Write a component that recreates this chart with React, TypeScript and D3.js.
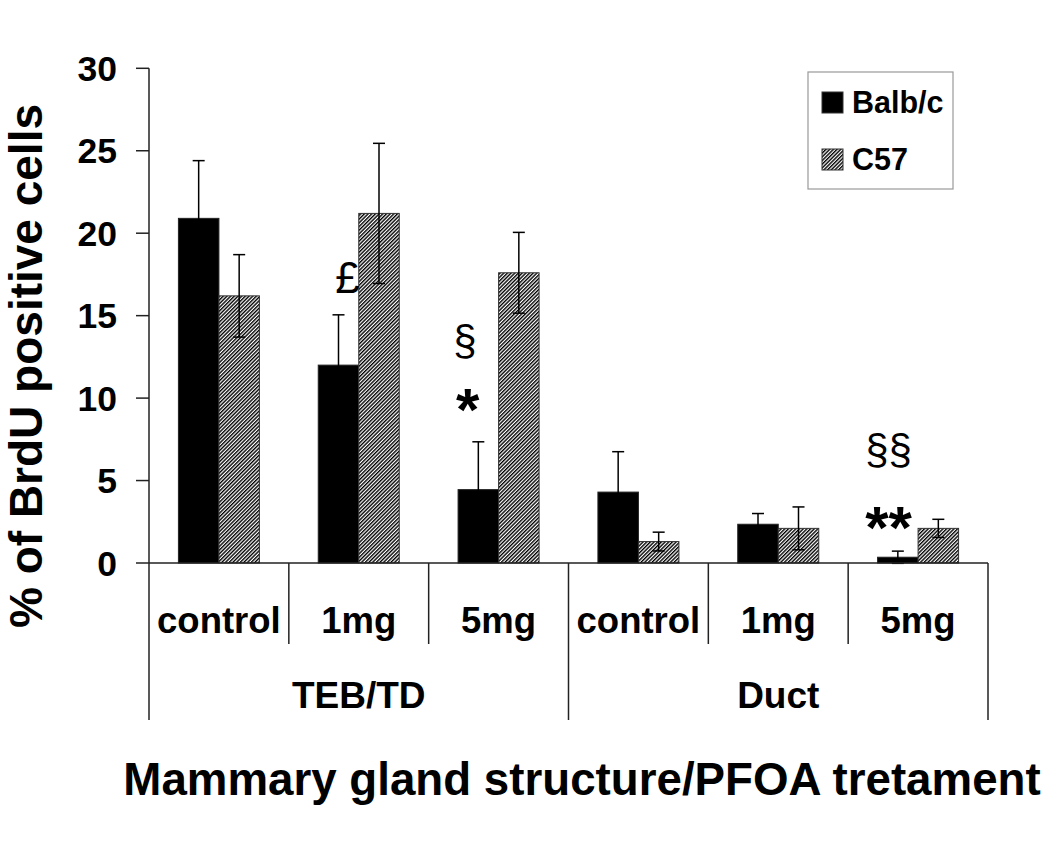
import React from "react";
import * as d3 from "d3";

const categories = ["control", "1mg", "5mg", "control", "1mg", "5mg"];
const groups = ["TEB/TD", "Duct"];
const groupSpan = [3, 3];
const series = ["Balb/c", "C57"];
const balb = [20.9, 12.0, 4.45, 4.3, 2.35, 0.35];
const balbErr = [3.5, 3.05, 2.9, 2.45, 0.65, 0.37];
const c57 = [16.2, 21.2, 17.6, 1.3, 2.1, 2.1];
const c57Err = [2.5, 4.25, 2.45, 0.57, 1.3, 0.55];
const yTicks = [0, 5, 10, 15, 20, 25, 30];

// annotations: category index, text, baseline value (data units), horizontal shift in bar widths
const annCat = [1, 2, 2, 5, 5];
const annText = ["£", "§", "*", "§§", "**"];
const annVal = [16.4, 12.6, 8.05, 6.0, 0.9];
const annShift = [0.22, -0.33, -0.26, -0.23, -0.23];
const annBold = [false, false, true, false, true];
const annSize = [44, 42, 60, 42, 60];

const W = 1050;
const H = 851;
const FONT = "'Liberation Sans', Arial, Helvetica, sans-serif";

export default function App() {
  const x0 = 149;
  const x1 = 988;
  const y = d3.scaleLinear().domain([0, 30]).range([563, 68.3]);
  const keys = categories.map((c, i) => `${i}`);
  const x = d3.scaleBand<string>().domain(keys).range([x0, x1]).padding(0);
  const bw = x.bandwidth();
  const barW = 40.5;
  const xs = d3
    .scaleBand<string>()
    .domain(series)
    .range([(bw - 2 * barW) / 2, (bw + 2 * barW) / 2])
    .padding(0);
  const y0 = y(0);
  const catLineEnd = 644;
  const grpLineEnd = 720;

  const groupEdges: number[] = [];
  let acc = 0;
  groupEdges.push(0);
  groupSpan.forEach((s) => {
    acc += s;
    groupEdges.push(acc);
  });
  const edgeX = (i: number) => (i >= keys.length ? x1 : (x(keys[i]) as number));

  const drawErr = (cx: number, v: number, e: number, k: string) => (
    <g key={k} stroke="#000" strokeWidth={1.5} fill="none">
      <line x1={cx} x2={cx} y1={y(v - e)} y2={y(v + e)} />
      <line x1={cx - 6} x2={cx + 6} y1={y(v + e)} y2={y(v + e)} />
      <line x1={cx - 6} x2={cx + 6} y1={y(v - e)} y2={y(v - e)} />
    </g>
  );

  return (
    <svg
      width={W}
      height={H}
      style={{ position: "absolute", left: 0, top: 0, background: "#fff" }}
      fontFamily={FONT}
    >
      <defs>
        <pattern
          id="hatch"
          width={2.6}
          height={2.6}
          patternUnits="userSpaceOnUse"
          patternTransform="rotate(45)"
        >
          <rect width={2.6} height={2.6} fill="#fff" />
          <line x1={0.7} y1={0} x2={0.7} y2={2.6} stroke="#000" strokeWidth={1.4} />
        </pattern>
      </defs>
      <rect width={W} height={H} fill="#fff" />

      {/* bars */}
      {keys.map((k, i) => {
        const bx = x(k) as number;
        const bxB = bx + (xs("Balb/c") as number);
        const bxC = bx + (xs("C57") as number);
        return (
          <g key={k}>
            <rect
              x={bxB}
              y={y(balb[i])}
              width={xs.bandwidth()}
              height={y0 - y(balb[i])}
              fill="#000"
              stroke="#222"
              strokeWidth={1}
            />
            <rect
              x={bxC}
              y={y(c57[i])}
              width={xs.bandwidth()}
              height={y0 - y(c57[i])}
              fill="url(#hatch)"
              stroke="#333"
              strokeWidth={1}
            />
            {drawErr(bxB + xs.bandwidth() / 2, balb[i], balbErr[i], `eb${i}`)}
            {drawErr(bxC + xs.bandwidth() / 2, c57[i], c57Err[i], `ec${i}`)}
          </g>
        );
      })}

      {/* y axis */}
      <g stroke="#222" strokeWidth={1.5}>
        <line x1={x0} x2={x0} y1={y(30)} y2={grpLineEnd} />
        {yTicks.map((t) => (
          <line key={t} x1={x0 - 13} x2={x0} y1={y(t)} y2={y(t)} />
        ))}
        <line x1={x0} x2={x1} y1={y0} y2={y0} />
        {d3.range(1, keys.length).map((i) => {
          const isGroup = groupEdges.includes(i);
          return (
            <line
              key={i}
              x1={edgeX(i)}
              x2={edgeX(i)}
              y1={y0}
              y2={isGroup ? grpLineEnd : catLineEnd}
            />
          );
        })}
        <line x1={x1} x2={x1} y1={y0} y2={grpLineEnd} />
      </g>
      {yTicks.map((t) => (
        <text
          key={t}
          x={117}
          y={y(t) + 12.5}
          textAnchor="end"
          fontSize={35.5}
          fontWeight="bold"
          fill="#000"
        >
          {t}
        </text>
      ))}

      {/* category labels */}
      {keys.map((k, i) => (
        <text
          key={k}
          x={(x(k) as number) + bw / 2}
          y={633}
          textAnchor="middle"
          fontSize={36.5}
          fontWeight="bold"
        >
          {categories[i]}
        </text>
      ))}
      {groups.map((g, gi) => (
        <text
          key={g}
          x={(edgeX(groupEdges[gi]) + edgeX(groupEdges[gi + 1])) / 2}
          y={708}
          textAnchor="middle"
          fontSize={37}
          fontWeight="bold"
        >
          {g}
        </text>
      ))}

      {/* annotations */}
      {annText.map((t, i) => {
        const k = keys[annCat[i]];
        const cx = (x(k) as number) + (xs("Balb/c") as number) + xs.bandwidth() / 2 + annShift[i] * barW;
        return (
          <text
            key={i}
            x={cx}
            y={y(annVal[i])}
            textAnchor="middle"
            fontSize={annSize[i]}
            fontWeight={annBold[i] ? "bold" : "normal"}
          >
            {t}
          </text>
        );
      })}

      {/* legend */}
      <rect x={808} y={72} width={145} height={117} fill="#fff" stroke="#999" strokeWidth={1.2} />
      <rect x={822} y={92} width={21} height={21} fill="#000" stroke="#333" strokeWidth={1} />
      <text x={852} y={113} fontSize={30.5} fontWeight="bold">
        {series[0]}
      </text>
      <rect x={822} y={149} width={21} height={21} fill="url(#hatch)" stroke="#333" strokeWidth={1} />
      <text x={852} y={170} fontSize={30.5} fontWeight="bold">
        {series[1]}
      </text>

      {/* axis titles */}
      <text
        transform={`translate(42, 366) rotate(-90)`}
        textAnchor="middle"
        fontSize={46}
        fontWeight="bold"
      >
        % of BrdU positive cells
      </text>
      <text x={582} y={795} textAnchor="middle" fontSize={45.7} fontWeight="bold">
        Mammary gland structure/PFOA tretament
      </text>
    </svg>
  );
}
